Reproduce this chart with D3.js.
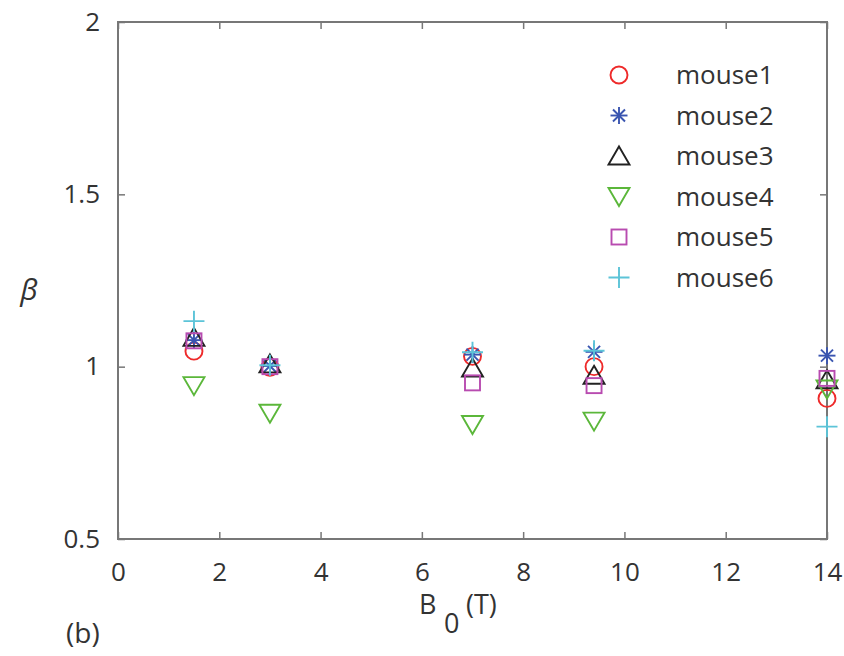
<!DOCTYPE html>
<html>
<head>
<meta charset="utf-8">
<script src="https://cdn.jsdelivr.net/npm/d3@7"></script>
<style>
  body { margin: 0; background: #fff; }
  text { font-family: "Open Sans", "DejaVu Sans", sans-serif; fill: #333; }
</style>
</head>
<body>
<svg></svg>
<script>
// field strengths (T)
const B0 = [1.5, 3, 7, 9.4, 14]

// beta per mouse
const mouse1 = [1.045, 0.998, 1.03, 1.0, 0.908]
const mouse2 = [1.077, 1.002, 1.035, 1.043, 1.032]
const mouse3 = [1.085, 1.008, 0.996, 0.975, 0.962]
const mouse4 = [0.945, 0.865, 0.832, 0.842, 0.935]
const mouse5 = [1.075, 1.0, 0.953, 0.945, 0.966]
const mouse6 = [1.132, 1.004, 1.042, 1.046, 0.826]

const names = ["mouse1", "mouse2", "mouse3", "mouse4", "mouse5", "mouse6"]
const colors = ["#ee2a2a", "#3a55b0", "#222222", "#5bb73a", "#b84bb0", "#5cc4d8"]

const xTicks = [0, 2, 4, 6, 8, 10, 12, 14]
const yTicks = [0.5, 1, 1.5, 2]

const width = 844, height = 656
const margin = {left: 118, top: 22, right: 17, bottom: 117}

let svg = d3.select("svg")
    .attr("width", width)
    .attr("height", height)

let x = d3.scaleLinear().domain([0, 14]).range([margin.left, width - margin.right])
let y = d3.scaleLinear().domain([0.5, 2]).range([height - margin.bottom, margin.top])

const axisColor = "#777"

// box with inward ticks on all sides
function styleAxis(g){
    g.select(".domain").remove()
    g.selectAll(".tick line").attr("stroke", axisColor).attr("stroke-width", 1.5)
    g.selectAll(".tick text").style("font-size", "26px").attr("fill", "#3a3a3a")
}

svg.append("g")
    .attr("transform", `translate(0,${y(0.5)})`)
    .call(d3.axisBottom(x).tickValues(xTicks).tickSize(-7).tickPadding(24).tickFormat(d3.format("d")))
    .call(styleAxis)

svg.append("g")
    .attr("transform", `translate(0,${y(2)})`)
    .call(d3.axisTop(x).tickValues(xTicks).tickSize(-7).tickFormat(""))
    .call(styleAxis)

svg.append("g")
    .attr("transform", `translate(${x(0)},0)`)
    .call(d3.axisLeft(y).tickValues(yTicks).tickSize(-7).tickPadding(18).tickFormat(d => d))
    .call(styleAxis)

svg.append("g")
    .attr("transform", `translate(${x(14)},0)`)
    .call(d3.axisRight(y).tickValues(yTicks).tickSize(-7).tickFormat(""))
    .call(styleAxis)

svg.append("rect")
    .attr("x", x(0)).attr("y", y(2))
    .attr("width", x(14) - x(0)).attr("height", y(0.5) - y(2))
    .attr("fill", "none").attr("stroke", axisColor).attr("stroke-width", 2)

// marker shapes (MATLAB style)
function marker(g, i, cx, cy){
    const c = colors[i]
    const sw = 1.9
    if (i == 0) {
        g.append("circle").attr("cx", cx).attr("cy", cy).attr("r", 8.5)
            .attr("fill", "none").attr("stroke", c).attr("stroke-width", sw)
    } else if (i == 1) {
        const r = 8.5
        for (let a of [0, 45, 90, 135]) {
            const t = a * Math.PI / 180
            g.append("line")
                .attr("x1", cx - r * Math.cos(t)).attr("y1", cy - r * Math.sin(t))
                .attr("x2", cx + r * Math.cos(t)).attr("y2", cy + r * Math.sin(t))
                .attr("stroke", c).attr("stroke-width", sw)
        }
    } else if (i == 2) {
        g.append("path")
            .attr("d", `M${cx},${cy - 9.5}L${cx + 10.5},${cy + 8.5}L${cx - 10.5},${cy + 8.5}Z`)
            .attr("fill", "none").attr("stroke", c).attr("stroke-width", sw)
    } else if (i == 3) {
        g.append("path")
            .attr("d", `M${cx},${cy + 9.5}L${cx + 10.5},${cy - 8.5}L${cx - 10.5},${cy - 8.5}Z`)
            .attr("fill", "none").attr("stroke", c).attr("stroke-width", sw)
    } else if (i == 4) {
        g.append("rect").attr("x", cx - 7.5).attr("y", cy - 7.5).attr("width", 15).attr("height", 15)
            .attr("fill", "none").attr("stroke", c).attr("stroke-width", sw)
    } else {
        g.append("path")
            .attr("d", `M${cx - 10.5},${cy}H${cx + 10.5}M${cx},${cy - 10.5}V${cy + 10.5}`)
            .attr("fill", "none").attr("stroke", c).attr("stroke-width", sw)
    }
}

const series = [mouse1, mouse2, mouse3, mouse4, mouse5, mouse6]

series.forEach(function(vals, i){
    let g = svg.append("g").attr("class", names[i])
    vals.forEach(function(v, j){ marker(g, i, x(B0[j]), y(v)) })
})

// legend
let legend = svg.append("g")
names.forEach(function(n, i){
    const ly = 75 + i * 40.5
    marker(legend, i, 619, ly)
    legend.append("text").attr("x", 676).attr("y", ly + 9)
        .style("font-size", "26px").text(n)
})

// axis labels
svg.append("text")
    .attr("x", 29).attr("y", 300)
    .attr("text-anchor", "middle")
    .style("font-size", "30px")
    .style("font-style", "italic")
    .text("β")

let xl = svg.append("text")
    .attr("x", 419).attr("y", 614)
    .style("font-size", "27px")
xl.append("tspan").text("B")
xl.append("tspan").attr("x", 444).attr("dy", 19).text("0")
xl.append("tspan").attr("x", 466).attr("dy", -19).text("(T)")

svg.append("text")
    .attr("x", 66).attr("y", 643)
    .style("font-size", "28px")
    .text("(b)")
</script>
</body>
</html>
